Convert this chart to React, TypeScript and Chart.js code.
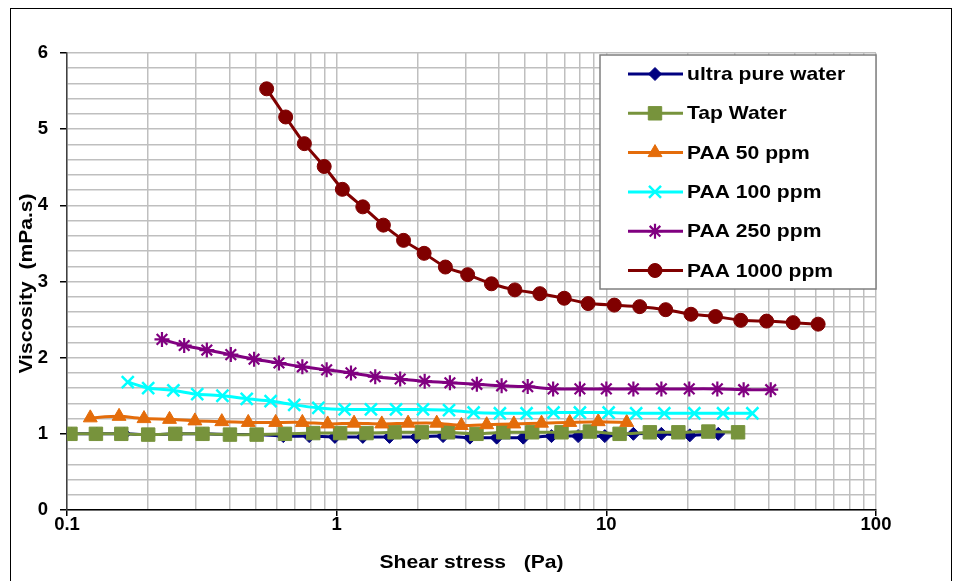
import { useEffect, useRef } from 'react';
import { Chart, registerables } from 'chart.js';
import { drawPoint } from 'chart.js/helpers';

Chart.register(...registerables);

// ---- data -------------------------------------------------------------
const seriesNames = [
  'ultra pure water',
  'Tap Water',
  'PAA 50 ppm',
  'PAA 100 ppm',
  'PAA 250 ppm',
  'PAA 1000 ppm',
];

const pureWaterStress = [0.104, 0.129, 0.163, 0.203, 0.256, 0.322, 0.402, 0.506, 0.634, 0.791, 0.985, 1.25, 1.57, 1.98, 2.48, 3.12, 3.92, 4.92, 6.26, 7.86, 9.87, 12.6, 16.0, 20.4, 26.0];
const pureWaterViscosity = [1.0, 1.0, 1.0, 0.99, 1.0, 1.0, 0.99, 0.99, 0.97, 0.97, 0.96, 0.96, 0.96, 0.96, 0.97, 0.95, 0.95, 0.95, 0.97, 0.97, 0.97, 1.0, 1.0, 0.98, 1.0];

const tapWaterStress = [0.103, 0.128, 0.159, 0.2, 0.252, 0.318, 0.402, 0.505, 0.643, 0.819, 1.03, 1.29, 1.64, 2.07, 2.59, 3.3, 4.15, 5.31, 6.82, 8.69, 11.2, 14.5, 18.5, 23.9, 30.8];
const tapWaterViscosity = [1.0, 1.0, 1.0, 0.99, 1.0, 1.0, 0.99, 0.99, 1.0, 1.01, 1.01, 1.01, 1.02, 1.02, 1.02, 1.0, 1.02, 1.02, 1.02, 1.03, 1.0, 1.02, 1.02, 1.03, 1.02];

const paa50Stress = [0.122, 0.156, 0.193, 0.24, 0.298, 0.375, 0.47, 0.594, 0.746, 0.926, 1.16, 1.47, 1.84, 2.35, 2.9, 3.6, 4.54, 5.75, 7.32, 9.33, 11.9];
const paa50Viscosity = [1.21, 1.23, 1.2, 1.19, 1.17, 1.16, 1.15, 1.15, 1.15, 1.13, 1.14, 1.13, 1.14, 1.14, 1.11, 1.12, 1.13, 1.14, 1.15, 1.16, 1.15];

const paa100Stress = [0.168, 0.2, 0.248, 0.304, 0.377, 0.464, 0.569, 0.696, 0.855, 1.07, 1.34, 1.66, 2.09, 2.61, 3.22, 4.03, 5.06, 6.37, 7.98, 10.2, 12.9, 16.4, 21.2, 27.1, 34.8];
const paa100Viscosity = [1.68, 1.6, 1.57, 1.52, 1.5, 1.46, 1.43, 1.38, 1.34, 1.32, 1.32, 1.32, 1.32, 1.31, 1.28, 1.27, 1.27, 1.28, 1.28, 1.28, 1.27, 1.27, 1.27, 1.27, 1.27];

const paa250Stress = [0.225, 0.272, 0.33, 0.405, 0.494, 0.611, 0.746, 0.918, 1.13, 1.39, 1.72, 2.12, 2.63, 3.31, 4.09, 5.11, 6.35, 7.98, 10.0, 12.6, 16.0, 20.3, 25.8, 32.3, 40.7];
const paa250Viscosity = [2.24, 2.16, 2.1, 2.04, 1.98, 1.93, 1.88, 1.84, 1.8, 1.75, 1.72, 1.69, 1.67, 1.65, 1.63, 1.62, 1.59, 1.59, 1.59, 1.59, 1.59, 1.59, 1.59, 1.58, 1.58];

const paa1000Stress = [0.55, 0.647, 0.759, 0.899, 1.05, 1.25, 1.49, 1.77, 2.11, 2.53, 3.06, 3.75, 4.58, 5.67, 6.98, 8.56, 10.7, 13.3, 16.6, 20.6, 25.4, 31.5, 39.3, 49.3, 61.0];
const paa1000Viscosity = [5.53, 5.16, 4.81, 4.51, 4.21, 3.98, 3.74, 3.54, 3.37, 3.19, 3.09, 2.97, 2.89, 2.84, 2.78, 2.71, 2.69, 2.67, 2.63, 2.57, 2.54, 2.49, 2.48, 2.46, 2.44];

const xTickValues = [0.1, 1, 10, 100];
const xTickLabels = ['0.1', '1', '10', '100'];
const yTickLabels = ['0', '1', '2', '3', '4', '5', '6'];

const xTitle = 'Shear stress   (Pa)';
const yTitle = 'Viscosity  (mPa.s)';

// ---- styling ----------------------------------------------------------
const FONT_FAMILY = '"Liberation Sans", Arial, sans-serif';
const FONT_SIZE = 18.5;
const TEXT_STRETCH = 1.14;
const GRID_COLOR = '#bfbfbf';

const seriesStyles = [
  { color: '#000080', pointStyle: 'rectRot', radius: 6.5, borderWidth: 1 },
  { color: '#77933c', pointStyle: 'rect', radius: 9.5, borderWidth: 1 },
  { color: '#e46c0a', pointStyle: 'triangle', radius: 8, borderWidth: 1 },
  { color: '#00ffff', pointStyle: 'crossRot', radius: 8.5, borderWidth: 2.5 },
  { color: '#800080', pointStyle: 'star', radius: 7.5, borderWidth: 2.2 },
  { color: '#800000', pointStyle: 'circle', radius: 7, borderWidth: 1 },
];

const seriesData = [
  [pureWaterStress, pureWaterViscosity],
  [tapWaterStress, tapWaterViscosity],
  [paa50Stress, paa50Viscosity],
  [paa100Stress, paa100Viscosity],
  [paa250Stress, paa250Viscosity],
  [paa1000Stress, paa1000Viscosity],
];

const isDecade = (v: number) => Math.abs(Math.log10(v) - Math.round(Math.log10(v))) < 1e-6;
const isWhole = (v: number) => Math.abs(v - Math.round(v)) < 1e-6;

function stretchedText(
  ctx: CanvasRenderingContext2D,
  text: string,
  x: number,
  y: number,
  align: CanvasTextAlign,
  baseline: CanvasTextBaseline,
  angle = 0,
) {
  ctx.save();
  ctx.translate(x, y);
  if (angle) ctx.rotate(angle);
  ctx.scale(TEXT_STRETCH, 1);
  ctx.textAlign = align;
  ctx.textBaseline = baseline;
  ctx.fillText(text, 0, 0);
  ctx.restore();
}

// Frame, axis titles and the boxed legend drawn on top of the plot
const decorations = {
  id: 'decorations',
  beforeDraw(chart: any) {
    const { ctx, width, height } = chart;
    ctx.save();
    ctx.fillStyle = '#ffffff';
    ctx.fillRect(0, 0, width, height);
    ctx.restore();
  },
  afterDraw(chart: any) {
    const { ctx, chartArea } = chart;
    ctx.save();

    // outer chart border
    ctx.strokeStyle = '#000000';
    ctx.lineWidth = 1;
    ctx.strokeRect(10.5, 8.5, 941, 620);

    // axis titles
    ctx.fillStyle = '#000000';
    ctx.font = `bold ${FONT_SIZE}px ${FONT_FAMILY}`;
    stretchedText(ctx, xTitle, (chartArea.left + chartArea.right) / 2, 568, 'center', 'alphabetic');
    stretchedText(ctx, yTitle, 32, (chartArea.top + chartArea.bottom) / 2 + 2, 'center', 'alphabetic', -Math.PI / 2);

    // legend box
    const box = { x: 600, y: 55, w: 276, h: 234 };
    ctx.fillStyle = '#ffffff';
    ctx.fillRect(box.x, box.y, box.w, box.h);
    ctx.strokeStyle = '#7f7f7f';
    ctx.lineWidth = 1.5;
    ctx.strokeRect(box.x, box.y, box.w, box.h);

    seriesNames.forEach((name, i) => {
      const st = seriesStyles[i];
      const y = 74 + i * 39.3;
      ctx.strokeStyle = st.color;
      ctx.lineWidth = 3;
      ctx.beginPath();
      ctx.moveTo(628, y);
      ctx.lineTo(683, y);
      ctx.stroke();

      ctx.fillStyle = st.color;
      ctx.strokeStyle = st.color;
      ctx.lineWidth = st.borderWidth;
      drawPoint(ctx, { pointStyle: st.pointStyle, radius: st.radius, rotation: 0, borderWidth: st.borderWidth } as any, 655, y);

      ctx.fillStyle = '#000000';
      ctx.font = `bold ${FONT_SIZE}px ${FONT_FAMILY}`;
      stretchedText(ctx, name, 687, y + 1, 'left', 'middle');
    });

    ctx.restore();
  },
};

export default function App() {
  const canvasRef = useRef<HTMLCanvasElement | null>(null);

  useEffect(() => {
    const canvas = canvasRef.current;
    if (!canvas) return;

    const datasets = seriesNames.map((name, i) => {
      const [xs, ys] = seriesData[i];
      const st = seriesStyles[i];
      return {
        label: name,
        data: xs.map((x, j) => ({ x, y: ys[j] })),
        borderColor: st.color,
        backgroundColor: st.color,
        borderWidth: 3,
        pointStyle: st.pointStyle,
        pointRadius: st.radius,
        pointBackgroundColor: st.color,
        pointBorderColor: st.color,
        pointBorderWidth: st.borderWidth,
        tension: 0.2,
        showLine: true,
        order: seriesNames.length - i,
      };
    });

    const tickFont = { family: FONT_FAMILY, size: FONT_SIZE, weight: 'bold' as const, lineHeight: 1 };

    const chart = new Chart(canvas, {
      type: 'scatter',
      data: { datasets: datasets as any },
      options: {
        animation: false,
        responsive: true,
        maintainAspectRatio: false,
        devicePixelRatio: 1,
        events: [],
        layout: { padding: { top: 53, right: 83, left: 0, bottom: 0 } },
        plugins: {
          legend: { display: false },
          tooltip: { enabled: false },
        },
        scales: {
          x: {
            type: 'logarithmic',
            min: 0.1,
            max: 100,
            afterFit: (s: any) => {
              s.height = 71;
            },
            afterBuildTicks: (s: any) => {
              const ticks: { value: number; major: boolean }[] = [];
              for (let d = 0; d < xTickValues.length - 1; d++) {
                for (let m = 1; m < 10; m++) {
                  const v = Math.round(xTickValues[d] * m * 1e6) / 1e6;
                  ticks.push({ value: v, major: m === 1 });
                }
              }
              ticks.push({ value: xTickValues[xTickValues.length - 1], major: true });
              s.ticks = ticks;
            },
            ticks: {
              autoSkip: false,
              maxRotation: 0,
              minRotation: 0,
              padding: 0,
              color: '#000000',
              font: tickFont,
              callback: (v: any) => {
                const idx = xTickValues.findIndex((t) => Math.abs(t - Number(v)) < 1e-9);
                return idx >= 0 ? xTickLabels[idx] : '';
              },
            },
            grid: {
              color: GRID_COLOR,
              lineWidth: 1.5,
              tickLength: 6,
              tickWidth: 1.5,
              tickColor: (c: any) => (c.tick && isDecade(c.tick.value) ? '#000000' : 'rgba(0,0,0,0)'),
            },
            border: { color: '#000000', width: 1.5 },
          },
          y: {
            type: 'linear',
            min: 0,
            max: 6,
            afterFit: (s: any) => {
              s.width = 67;
            },
            ticks: {
              stepSize: 0.2,
              autoSkip: false,
              padding: 12,
              color: '#000000',
              font: tickFont,
              callback: (v: any) => (isWhole(Number(v)) ? yTickLabels[Math.round(Number(v))] : ''),
            },
            grid: {
              color: GRID_COLOR,
              lineWidth: 1.5,
              tickLength: 7,
              tickWidth: 1.5,
              tickColor: (c: any) => (c.tick && isWhole(c.tick.value) ? '#000000' : 'rgba(0,0,0,0)'),
            },
            border: { color: '#404040', width: 1.5 },
          },
        },
      } as any,
      plugins: [decorations],
    });

    return () => chart.destroy();
  }, []);

  return (
    <div style={{ position: 'fixed', left: 0, top: 0, width: 959, height: 581, background: '#fff' }}>
      <canvas ref={canvasRef} />
    </div>
  );
}
